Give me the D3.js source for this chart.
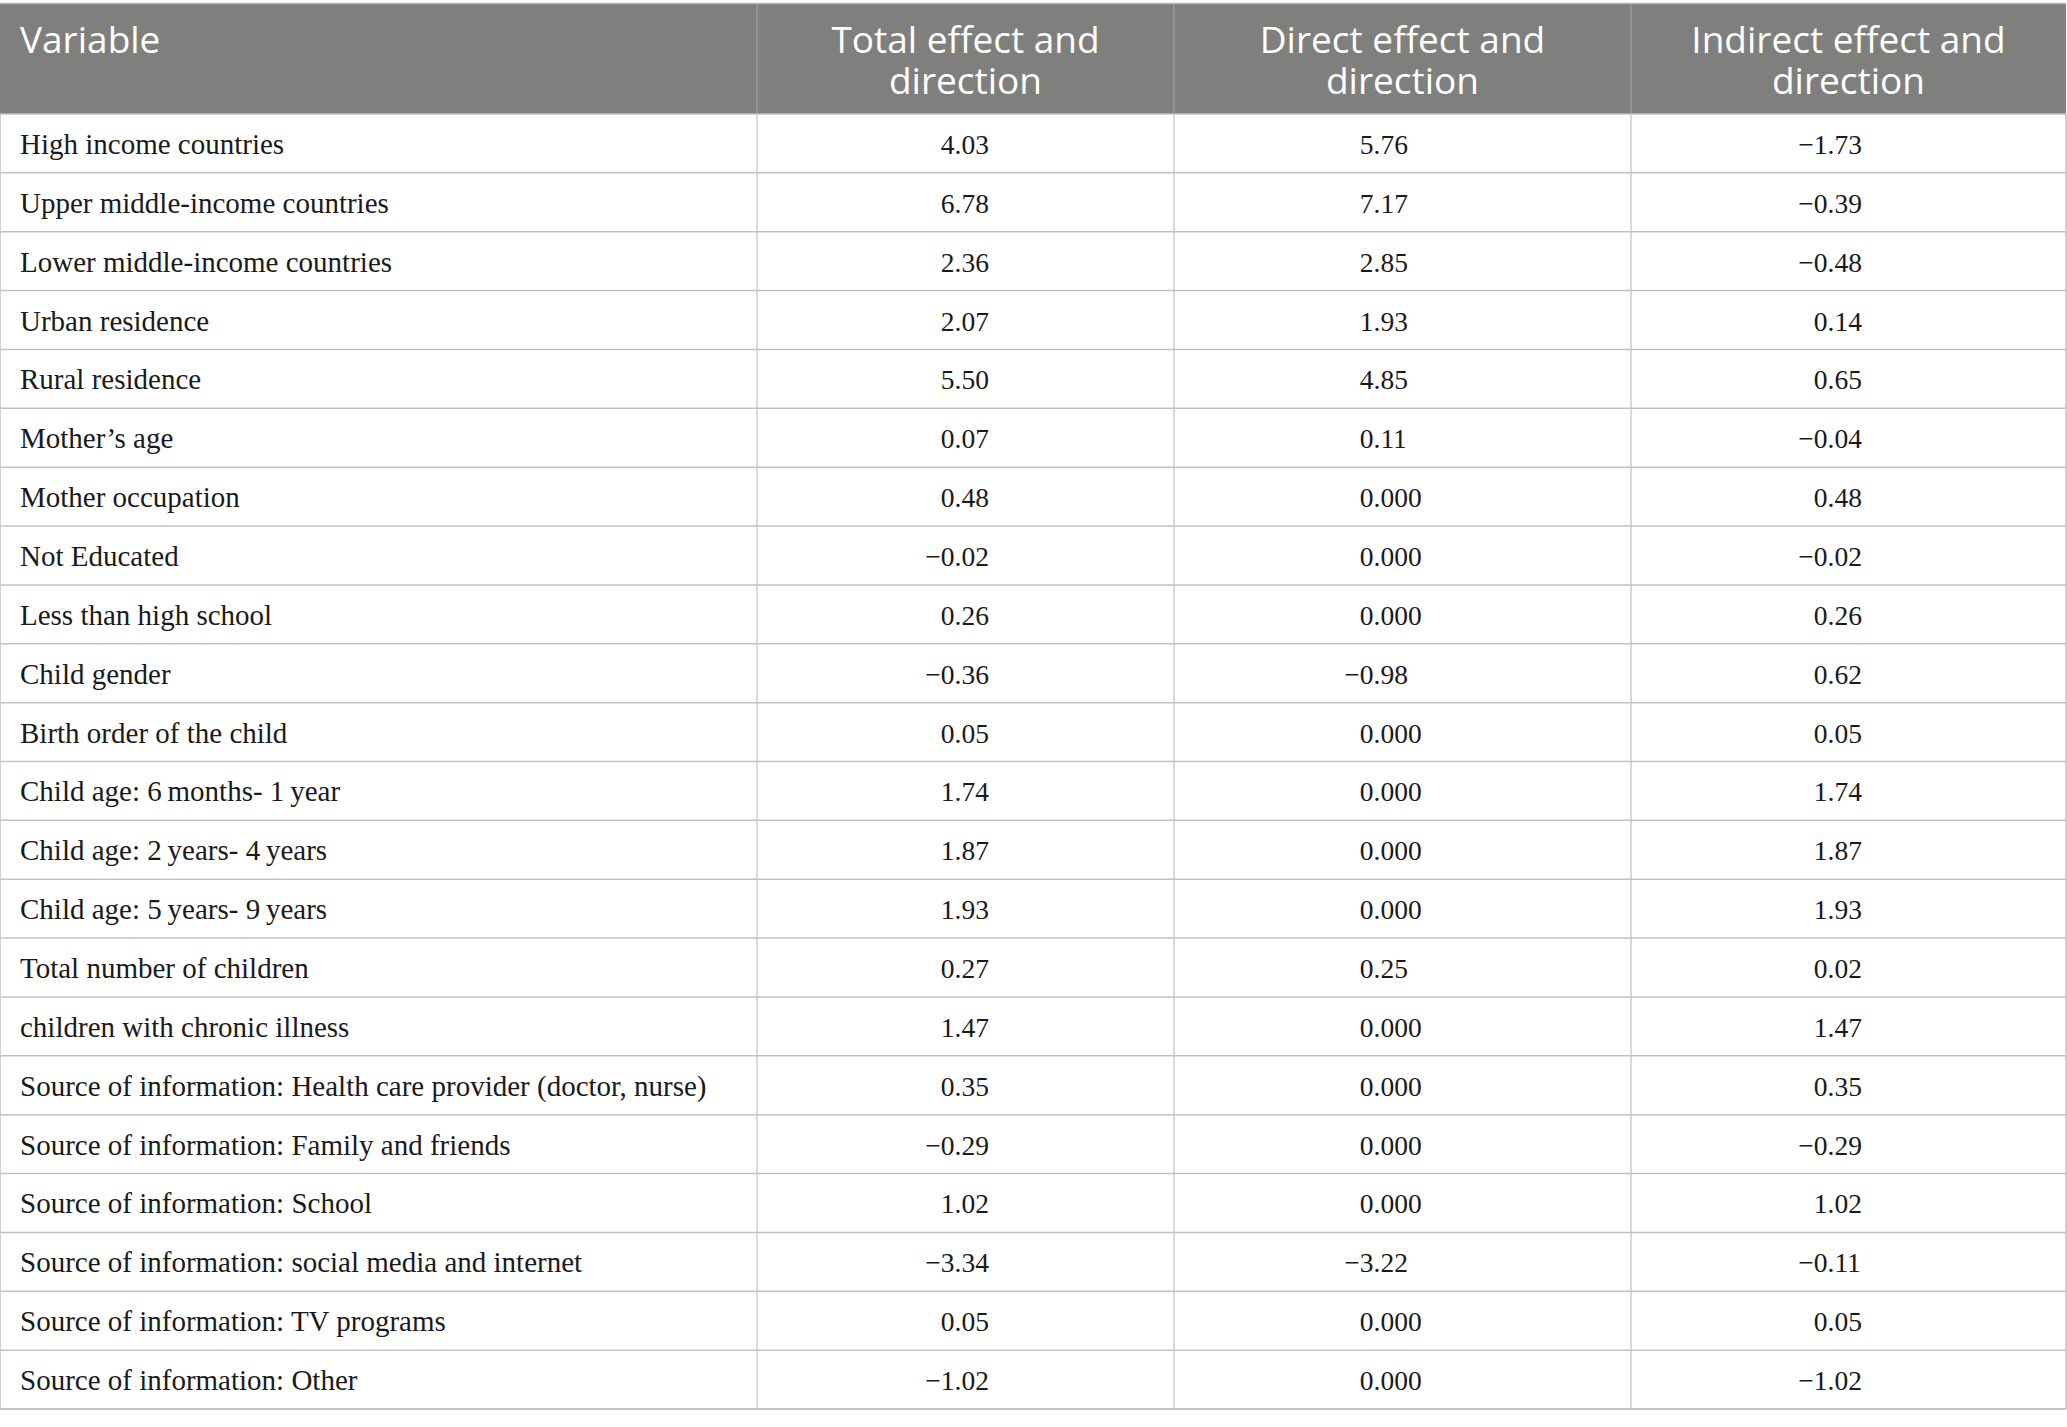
<!DOCTYPE html>
<html>
<head>
<meta charset="utf-8">
<script src="https://cdn.jsdelivr.net/npm/d3@7/dist/d3.min.js"></script>
<style>
  html, body { margin: 0; padding: 0; background: #ffffff; }
  svg { display: block; }
</style>
</head>
<body>
<div id="chart"></div>
<script>
// ---------- data ----------
const headers = [
  ["Variable"],
  ["Total effect and", "direction"],
  ["Direct effect and", "direction"],
  ["Indirect effect and", "direction"]
];

const variables = [
  "High income countries",
  "Upper middle-income countries",
  "Lower middle-income countries",
  "Urban residence",
  "Rural residence",
  "Mother\u2019s age",
  "Mother occupation",
  "Not Educated",
  "Less than high school",
  "Child gender",
  "Birth order of the child",
  "Child age: 6\u2009months- 1\u2009year",
  "Child age: 2\u2009years- 4\u2009years",
  "Child age: 5\u2009years- 9\u2009years",
  "Total number of children",
  "children with chronic illness",
  "Source of information: Health care provider (doctor, nurse)",
  "Source of information: Family and friends",
  "Source of information: School",
  "Source of information: social media and internet",
  "Source of information: TV programs",
  "Source of information: Other"
];

const totalEffect = ["4.03","6.78","2.36","2.07","5.50","0.07","0.48","\u22120.02","0.26","\u22120.36","0.05","1.74","1.87","1.93","0.27","1.47","0.35","\u22120.29","1.02","\u22123.34","0.05","\u22121.02"];
const directEffect = ["5.76","7.17","2.85","1.93","4.85","0.11","0.000","0.000","0.000","\u22120.98","0.000","0.000","0.000","0.000","0.25","0.000","0.000","0.000","0.000","\u22123.22","0.000","0.000"];
const indirectEffect = ["\u22121.73","\u22120.39","\u22120.48","0.14","0.65","\u22120.04","0.48","\u22120.02","0.26","0.62","0.05","1.74","1.87","1.93","0.02","1.47","0.35","\u22120.29","1.02","\u22120.11","0.05","\u22121.02"];

// ---------- layout ----------
const W = 2067, H = 1427;
const colEdges = [0, 757, 1174, 1631, 2066];
const headerTop = 4, headerBottom = 114, tableBottom = 1409;
const decimalX = [954.5, 1373.5, 1827.5];

const svg = d3.select("#chart").append("svg")
  .attr("width", W).attr("height", H)
  .attr("viewBox", `0 0 ${W} ${H}`);

const y = d3.scaleBand().domain(d3.range(variables.length)).range([headerBottom, tableBottom]);

// header background
svg.append("rect")
  .attr("x", 0).attr("y", headerTop)
  .attr("width", colEdges[4]).attr("height", headerBottom - headerTop)
  .attr("fill", "#7f807e");
svg.append("line")
  .attr("x1", 0).attr("x2", colEdges[4])
  .attr("y1", headerTop - 0.5).attr("y2", headerTop - 0.5)
  .attr("stroke", "#b5b5b5").attr("stroke-width", 1.5);

// header column separators
svg.selectAll("line.hsep").data([1, 2, 3]).enter().append("line")
  .attr("class", "hsep")
  .attr("x1", i => colEdges[i]).attr("x2", i => colEdges[i])
  .attr("y1", headerTop).attr("y2", headerBottom)
  .attr("stroke", "#9d9e9c").attr("stroke-width", 1.2);

// header text
const hg = svg.append("g")
  .attr("font-family", "'Open Sans', sans-serif")
  .attr("font-size", 37)
  .attr("fill", "#ffffff");
headers.forEach((lines, ci) => {
  const cx = ci === 0 ? 20 : (colEdges[ci] + colEdges[ci + 1]) / 2;
  const t = hg.append("text")
    .attr("text-anchor", ci === 0 ? "start" : "middle")
    .attr("x", cx)
    .attr("y", 53);
  lines.forEach((ln, li) => {
    t.append("tspan")
      .attr("x", cx)
      .attr("dy", li === 0 ? 0 : 41)
      .text(ln);
  });
});

// body grid lines
const rowEdges = d3.range(variables.length + 1).map(i => i < variables.length ? y(i) : tableBottom);
svg.selectAll("line.row").data(rowEdges).enter().append("line")
  .attr("class", "row")
  .attr("x1", 0).attr("x2", colEdges[4])
  .attr("y1", d => d).attr("y2", d => d)
  .attr("stroke", "#c2c2c2")
  .attr("stroke-width", (d, i) => i === variables.length ? 2 : 1.5);

svg.selectAll("line.col").data(colEdges).enter().append("line")
  .attr("class", "col")
  .attr("x1", d => d).attr("x2", d => d)
  .attr("y1", headerBottom).attr("y2", tableBottom)
  .attr("stroke", "#c2c2c2").attr("stroke-width", (d, i) => (i === 0 || i === 4) ? 1.5 : 1.2);

// labels
const bg = svg.append("g")
  .attr("font-family", "'Liberation Serif', 'Times New Roman', serif")
  .attr("fill", "#1a1a1a");

bg.selectAll("text.label").data(variables).enter().append("text")
  .attr("class", "label")
  .attr("x", 20)
  .attr("y", (d, i) => y(i) + y.bandwidth() / 2 + 10.5)
  .attr("font-size", 29)
  .text(d => d);

// numeric columns, decimal aligned
[totalEffect, directEffect, indirectEffect].forEach((series, ci) => {
  const g = bg.append("g").attr("font-size", 27.5);
  series.forEach((v, i) => {
    const p = v.indexOf(".");
    const ty = y(i) + y.bandwidth() / 2 + 10.5;
    g.append("text")
      .attr("x", decimalX[ci]).attr("y", ty)
      .attr("text-anchor", "end")
      .text(v.slice(0, p));
    g.append("text")
      .attr("x", decimalX[ci]).attr("y", ty)
      .attr("text-anchor", "start")
      .text(v.slice(p));
  });
});
</script>
</body>
</html>
